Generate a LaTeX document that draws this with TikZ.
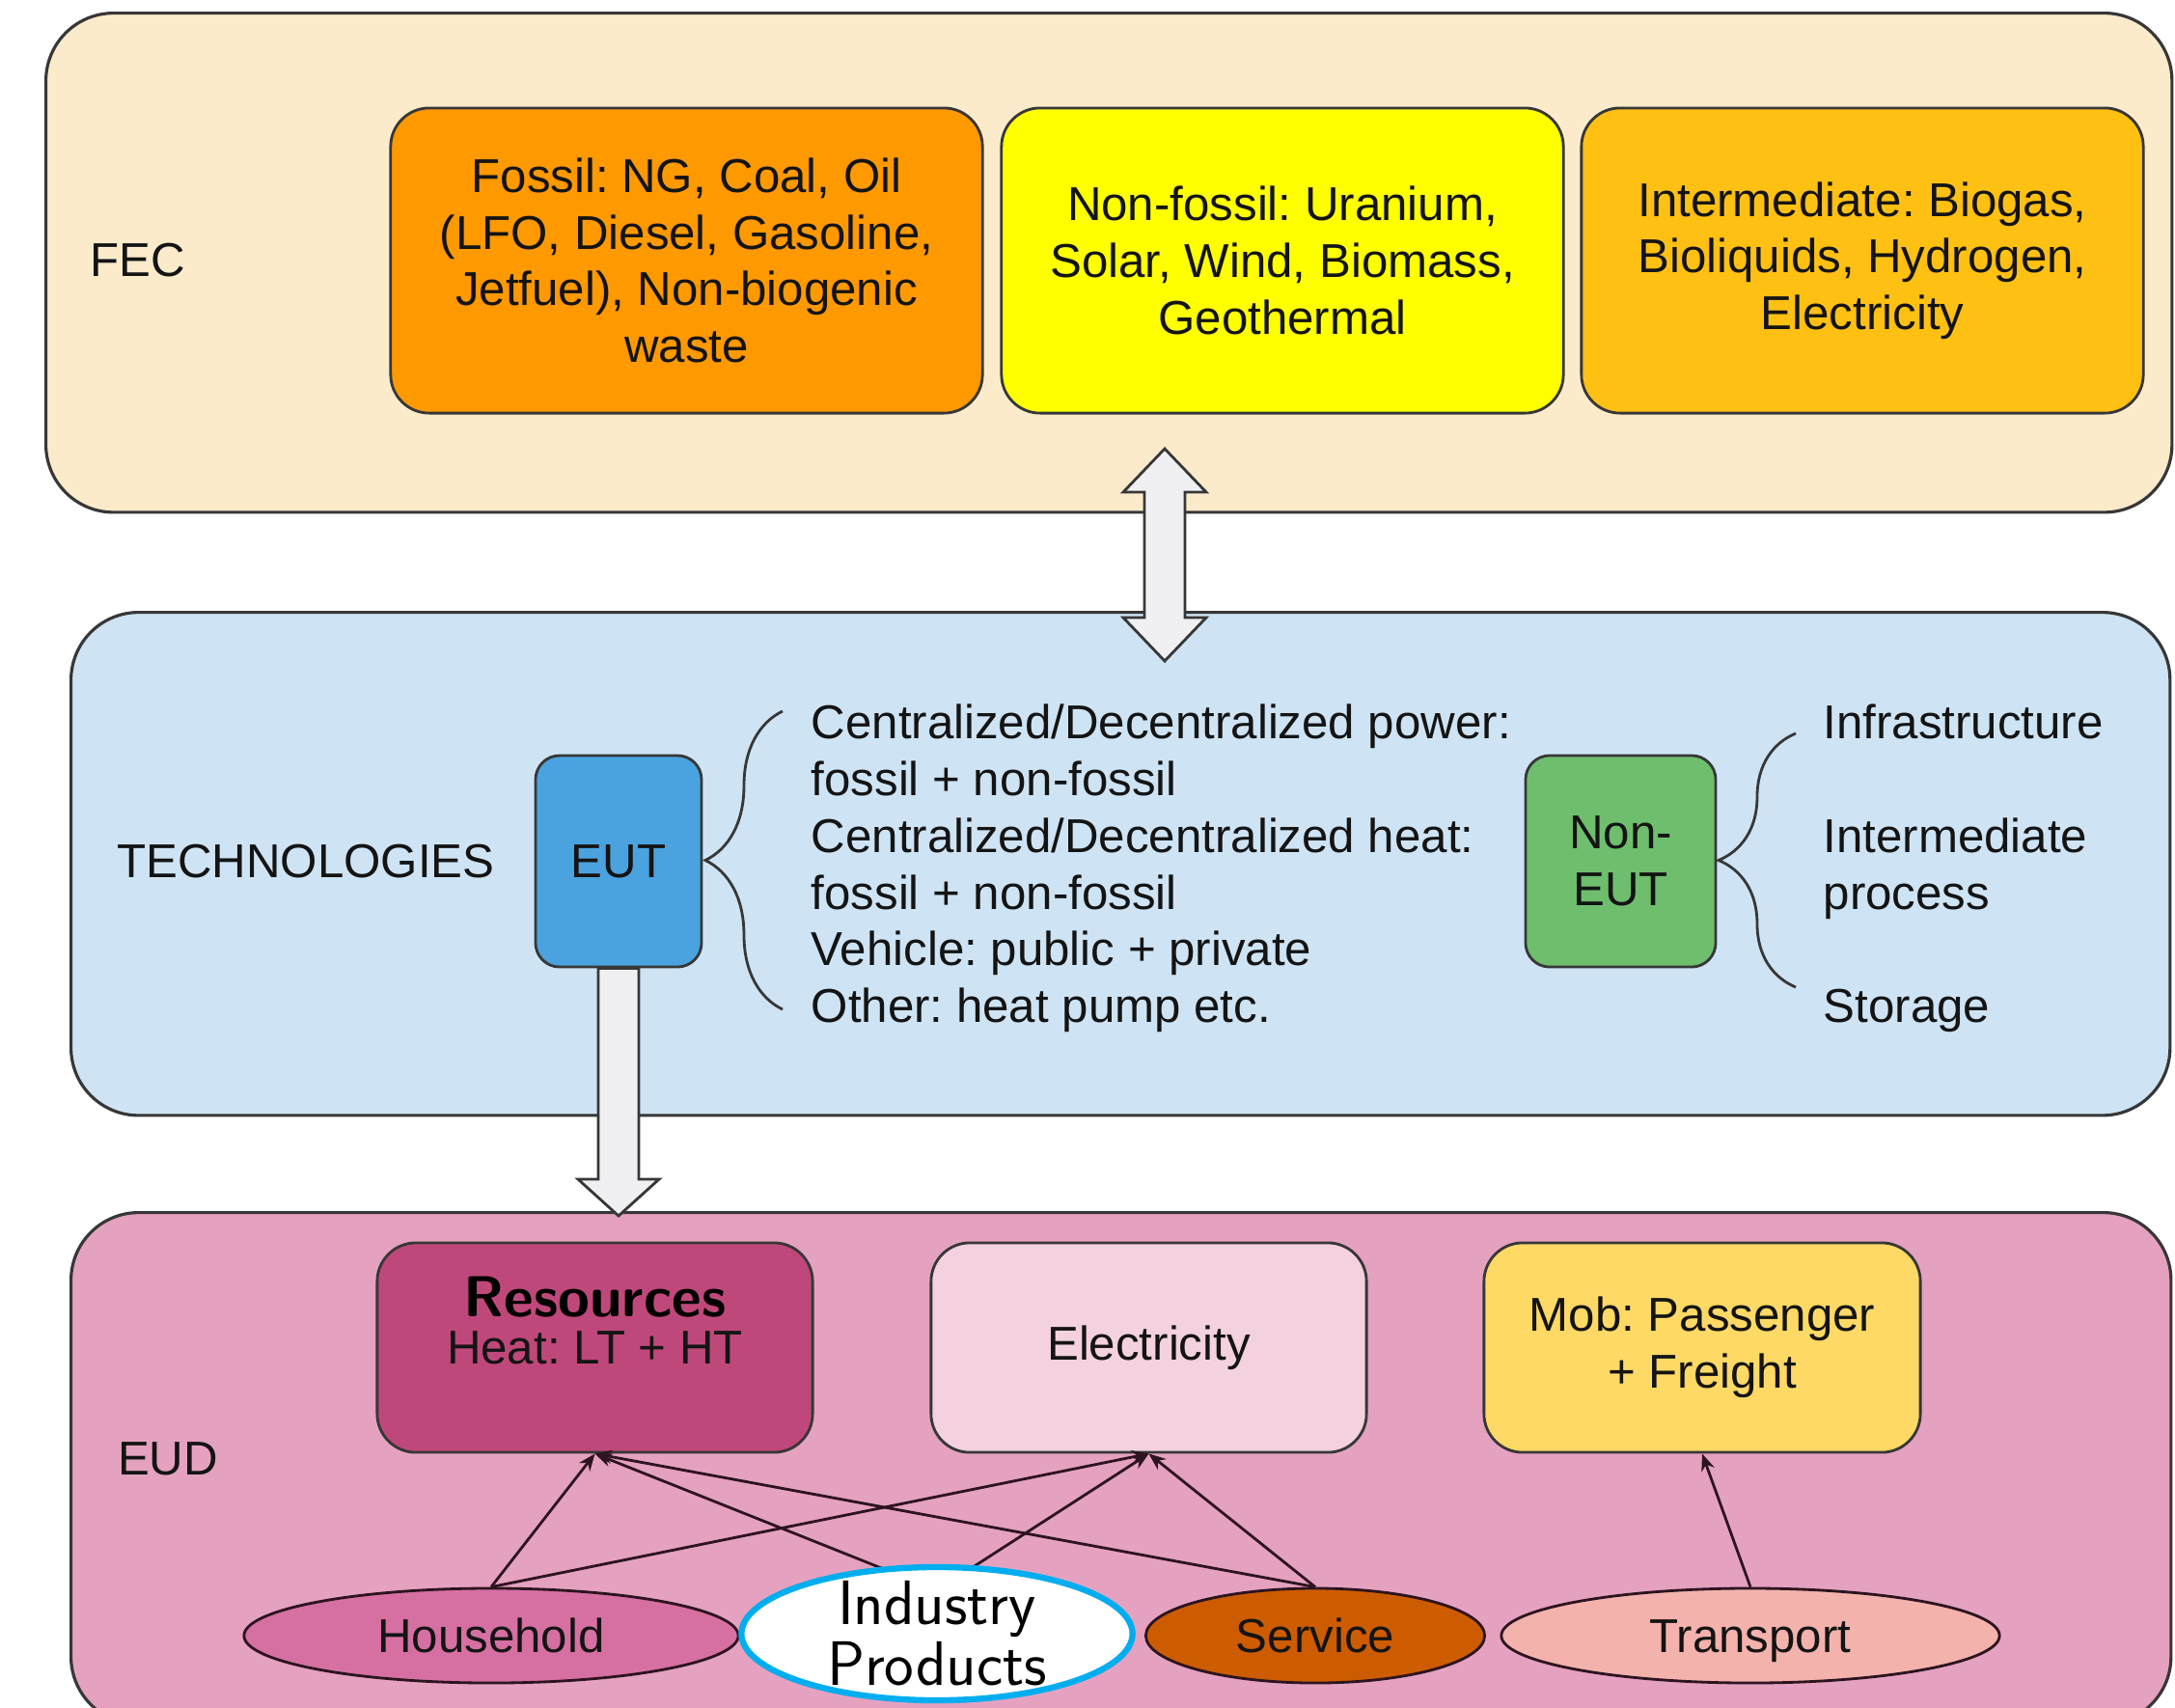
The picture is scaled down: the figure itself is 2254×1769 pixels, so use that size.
\documentclass[tikz,border=0pt]{standalone}
\usepackage{fontspec}
\setmainfont{Liberation Sans}
\usetikzlibrary{calc,arrows.meta,shapes.geometric,decorations.pathreplacing}
\frenchspacing

\definecolor{fecbg}{RGB}{252,235,203}
\definecolor{techbg}{RGB}{206,228,244}
\definecolor{eudbg}{RGB}{229,161,192}
\definecolor{fossilc}{RGB}{255,153,0}
\definecolor{nonfossilc}{RGB}{255,255,0}
\definecolor{interc}{RGB}{255,192,20}
\definecolor{eutc}{RGB}{74,163,222}
\definecolor{noneutc}{RGB}{110,190,110}
\definecolor{resc}{RGB}{191,72,122}
\definecolor{elecc}{RGB}{243,209,222}
\definecolor{mobc}{RGB}{255,217,102}
\definecolor{hhc}{RGB}{214,112,162}
\definecolor{srvc}{RGB}{205,92,0}
\definecolor{trnc}{RGB}{243,178,172}
\definecolor{indcyan}{RGB}{0,174,239}
\definecolor{arrowfill}{RGB}{240,240,242}
\definecolor{edgegray}{RGB}{55,55,55}
\definecolor{linkdark}{RGB}{45,20,32}
\definecolor{textdark}{RGB}{20,20,20}

\begin{document}
\begin{tikzpicture}[
    x=0.01cm, y=-0.01cm,
    font=\fontsize{14}{16.7}\selectfont,
    % Sávok (nagy lekerekített téglalapok)
    panel/.style={draw=edgegray, line width=0.9pt, rounded corners=0.7cm,
        anchor=north west, inner sep=0pt},
    % Dobozok a sávokon belül
    box/.style={draw=edgegray, line width=0.8pt, rounded corners=0.4cm,
        align=center, inner sep=0pt, text=textdark, minimum height=2.17cm},
    smallbox/.style={box, rounded corners=0.25cm, minimum height=2.19cm},
    sector/.style={ellipse, draw=linkdark, line width=0.8pt, inner sep=0pt,
        minimum height=0.98cm, text=textdark, text height=11.5pt, text depth=1.5pt},
    % Vastag, szürke nyilak
    fatarrow/.style={draw=edgegray, line width=0.8pt, fill=arrowfill, line join=miter},
    link/.style={draw=linkdark, line width=0.8pt, -{Stealth[length=5pt,width=4pt]}},
    curly/.style={draw=edgegray, line width=0.8pt, decorate,
        decoration={brace, amplitude=0.8cm}}
]

    % Fehér háttér, rögzített méret
    \path[use as bounding box, fill=white] (0,0) rectangle (2254,1769);

    % Felső sáv: FEC
    \node[panel, fill=fecbg, minimum width=22.02cm, minimum height=5.17cm] (fec) at (46,12) {};
    \node[text=textdark] (feclabel) at (143,270) {FEC};
    \node[box, fill=fossilc, minimum width=6.13cm, minimum height=3.16cm] (fossil) at (711.5,270)
        {Fossil: NG, Coal, Oil\\(LFO, Diesel, Gasoline,\\Jetfuel), Non-biogenic\\waste};
    \node[box, fill=nonfossilc, minimum width=5.82cm, minimum height=3.16cm] (nonfossil) at (1329,270)
        {Non-fossil: Uranium,\\Solar, Wind, Biomass,\\Geothermal};
    \node[box, fill=interc, minimum width=5.82cm, minimum height=3.16cm] (inter) at (1930,270)
        {Intermediate: Biogas,\\Bioliquids, Hydrogen,\\Electricity};

    % Középső sáv: technológiák
    \node[panel, fill=techbg, minimum width=21.74cm, minimum height=5.21cm] (tech) at (72,633) {};
    \node[text=textdark] (techlabel) at (317,893) {TECHNOLOGIES};
    \node[smallbox, fill=eutc, minimum width=1.72cm] (eut) at (641,892.5) {EUT};
    \node[smallbox, fill=noneutc, minimum width=1.97cm] (noneut) at (1679.5,892.5) {Non-\\EUT};
    \node[align=left, anchor=west, inner sep=0pt, text=textdark] (eutlist) at (840,900)
        {Centralized/Decentralized power:\\fossil + non-fossil\\Centralized/Decentralized heat:\\fossil + non-fossil\\Vehicle: public + private\\Other: heat pump etc.};
    \node[align=left, anchor=west, inner sep=0pt, text=textdark] (noneutlist) at (1889,900)
        {Infrastructure\\[16.7pt]Intermediate\\process\\[16.7pt]Storage};

    % Kapcsos zárójelek a listák előtt
    \coordinate (eutbrA) at (811,1046);
    \coordinate (eutbrB) at (811,737);
    \coordinate (nonbrA) at (1861,1023);
    \coordinate (nonbrB) at (1861,760);
    \draw[curly] (eutbrA) -- (eutbrB);
    \draw[curly] (nonbrA) -- (nonbrB);

    % Alsó sáv: EUD
    \node[panel, fill=eudbg, minimum width=21.75cm, minimum height=5.30cm] (eud) at (72,1255) {};
    \node[text=textdark] (eudlabel) at (174,1512) {EUD};
    \node[box, fill=resc, minimum width=4.51cm] (res) at (616.5,1396.5) {Heat: LT + HT};
    \node[font=\sffamily\bfseries\fontsize{17}{20}\selectfont, inner sep=0pt] (restitle) at (616.5,1344) {Resources};
    \node[box, fill=elecc, minimum width=4.51cm] (elec) at (1190.5,1396.5) {Electricity};
    \node[box, fill=mobc, minimum width=4.52cm] (mob) at (1764,1396.5) {Mob: Passenger\\+ Freight};

    % Szektorok (ellipszisek)
    \node[sector, fill=hhc, minimum width=5.12cm] (hh) at (509,1695) {Household};
    \node[sector, fill=srvc, minimum width=3.51cm] (srv) at (1363,1695) {Service};
    \node[sector, fill=trnc, minimum width=5.16cm] (trn) at (1814,1695) {Transport};
    \coordinate (indtop) at (971,1648);

    % Vékony nyilak a szektoroktól az igényekig
    \draw[link] (hh.north) -- (res.south);
    \draw[link] (hh.north) -- (elec.south);
    \draw[link] (indtop) -- (res.south);
    \draw[link] (indtop) -- (elec.south);
    \draw[link] (srv.north) -- (res.south);
    \draw[link] (srv.north) -- (elec.south);
    \draw[link] (trn.north) -- (mob.south);

    % Ipar: fehér ellipszis a nyilak fölött
    \node[ellipse, draw=indcyan, line width=1.8pt, fill=white, inner sep=0pt,
        minimum width=4.05cm, minimum height=1.38cm] (ind) at (971,1693) {};
    \node[font=\sffamily\fontsize{18.5}{17.9}\selectfont, align=center, inner sep=0pt] (indtext)
        at (ind.center) {Industry\\Products};

    % Vastag nyilak a sávok között
    \coordinate (dtop) at (1207,465);
    \coordinate (dbot) at (1207,685);
    \draw[fatarrow] (dtop) -- ++(43,45) -- ++(-22,0) -- ($(dbot)+(21,-45)$) -- ++(22,0)
        -- (dbot) -- ++(-43,-45) -- ++(22,0) -- ($(dtop)+(-21,45)$) -- ++(-22,0) -- cycle;

    \coordinate (eudtip) at ($(eut.south |- eud.north)+(0,5)$);
    \draw[fatarrow] ($(eut.south)+(-21,0)$) -- ($(eut.south)+(21,0)$) -- ($(eudtip)+(21,-38)$)
        -- ++(21,0) -- (eudtip) -- ++(-42,-38) -- ++(21,0) -- cycle;
\end{tikzpicture}
\end{document}
